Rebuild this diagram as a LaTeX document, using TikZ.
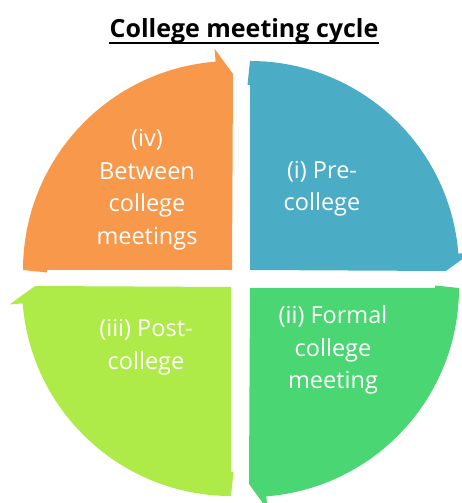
\documentclass[tikz,border=0pt]{standalone}
\usepackage{fontspec}
\setmainfont{Open Sans}

\definecolor{preblue}{RGB}{75,172,198}
\definecolor{formalgreen}{RGB}{74,214,114}
\definecolor{postlime}{RGB}{174,234,72}
\definecolor{betweenorange}{RGB}{247,152,74}

\tikzset{
  label text/.style={text=white, align=center, font=\fontsize{23.5}{32.5}\selectfont},
}

\begin{document}
\begin{tikzpicture}[x=1pt, y=1pt]
    \useasboundingbox (0, 0) rectangle (461, 503);
    \node[anchor=base, inner sep=0pt, font=\fontsize{25}{30}\selectfont\bfseries] (title) at (244, 465)
        {College meeting cycle};
        \draw[line width=1.8pt] ([yshift=1.5pt]title.south west) -- ([yshift=1.5pt]title.south east);
    % one quarter of the cycle, tail at 90, head at 0
        \fill[preblue, shift={(250, 233)}]
            (0, 0) -- (0, 185) -- (-2.5, 185) -- (90:209) arc[start angle=90, end angle=4.5, radius=209]
            -- (4.5:222) -- (196, -1) -- cycle;
    % the other three are the same quarter turned round
        \fill[formalgreen, shift={(250, 215)}, rotate=-90]
            (0, 0) -- (0, 185) -- (-2.5, 185) -- (90:209) arc[start angle=90, end angle=4.5, radius=209]
            -- (4.5:222) -- (196, -1) -- cycle;
        \fill[postlime, shift={(231, 216)}, rotate=-180]
            (0, 0) -- (0, 185) -- (-2.5, 185) -- (90:209) arc[start angle=90, end angle=4.5, radius=209]
            -- (4.5:222) -- (196, -1) -- cycle;
        \fill[betweenorange, shift={(232, 233)}, rotate=90]
            (0, 0) -- (0, 185) -- (-2.5, 185) -- (90:209) arc[start angle=90, end angle=4.5, radius=209]
            -- (4.5:222) -- (196, -1) -- cycle;
    % stage names
        \node[label text] (pre) at (322, 314.5){(i) Pre-\\college};
        \node[label text] (formal) at (333, 153){(ii) Formal\\college\\meeting};
        \node[label text] (post) at (146, 156){(iii) Post-\\college};
        \node[label text] (between) at (147, 313.5){(iv)\\Between\\college\\meetings};
\end{tikzpicture}
\end{document}
